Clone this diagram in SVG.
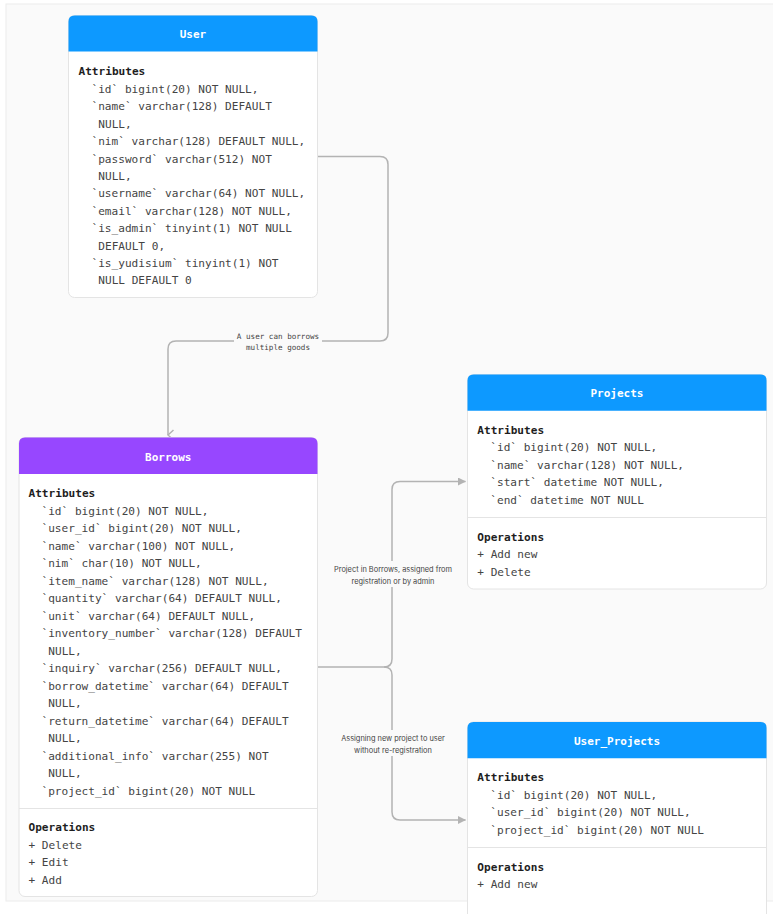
<svg xmlns="http://www.w3.org/2000/svg" width="773" height="914" viewBox="0 0 773 914">
<style>
.canvas{fill:#fafafa;stroke:#ececec;stroke-width:1}
.box{fill:#ffffff;stroke:#e4e4e4;stroke-width:1}
.hdr-blue{fill:#0d99ff}
.hdr-purple{fill:#9747ff}
.title{font-family:"DejaVu Sans Mono","Liberation Mono",monospace;font-size:11px;font-weight:bold;fill:#ffffff;text-anchor:middle}
.sec{font-family:"DejaVu Sans Mono","Liberation Mono",monospace;font-size:11.1px;font-weight:bold;fill:#1e1e1e}
.att{font-family:"DejaVu Sans Mono","Liberation Mono",monospace;font-size:11.1px;fill:#444444}
.sep{stroke:#e4e4e4;stroke-width:1}
.conn{fill:none;stroke:#b3b3b3;stroke-width:1.5}
.lblm{font-family:"DejaVu Sans Mono","Liberation Mono",monospace;font-size:7.6px;fill:#444444;text-anchor:middle}
.lbls{font-family:Inter,"Noto Sans",sans-serif;font-size:7.4px;fill:#444444;text-anchor:middle}
.lblbg{fill:#fafafa}
</style>
<defs>
<marker id="chev" viewBox="0 0 12 10" refX="6" refY="8.5" markerWidth="12" markerHeight="10" markerUnits="userSpaceOnUse" orient="auto-start-reverse">
<path d="M1,3 L6,8.5 L11,3" fill="none" stroke="#b3b3b3" stroke-width="1.5"/>
</marker>
<marker id="tri" viewBox="0 0 8 8" refX="7.5" refY="4" markerWidth="8" markerHeight="8" markerUnits="userSpaceOnUse" orient="auto">
<path d="M0,0 L8,4 L0,8 Z" fill="#b3b3b3"/>
</marker>
</defs>
<rect class="canvas" x="6" y="4" width="770" height="897"/>

<g id="connectors">
<path class="conn" d="M318,156.5 H380 Q388,156.5 388,164.5 V333 Q388,341 380,341 H176 Q168,341 168,349 V435" marker-end="url(#chev)"/>
<rect class="lblbg" x="234" y="329" width="88" height="24"/>
<text class="lblm" x="278" y="338.5">A user can borrows</text>
<text class="lblm" x="278" y="350">multiple goods</text>
<path class="conn" d="M318,667 H384 Q392,667 392,659 V489.5 Q392,481.5 400,481.5 H465.5" marker-end="url(#tri)"/>
<path class="conn" d="M384,667 Q392,667 392,675 V812 Q392,820 400,820 H465.5" marker-end="url(#tri)"/>
<rect class="lblbg" x="330" y="561" width="126" height="26"/>
<text class="lbls" x="393" y="571.5">Project in Borrows, assigned from</text>
<text class="lbls" x="393" y="583.5">registration or by admin</text>
<rect class="lblbg" x="334" y="730" width="118" height="26"/>
<text class="lbls" x="393" y="741">Assigning new project to user</text>
<text class="lbls" x="393" y="753">without re-registration</text>
</g>

<g id="user">
<rect class="box" x="68.5" y="15.5" width="249" height="282" rx="6"/>
<path class="hdr-blue" d="M68.5,51.5 V21.5 Q68.5,15.5 74.5,15.5 H311.5 Q317.5,15.5 317.5,21.5 V51.5 Z"/>
<text class="title" x="193" y="38">User</text>
<text class="sec" x="78.5" y="75">Attributes</text>
<text class="att" x="91.5" y="93">`id` bigint(20) NOT NULL,</text>
<text class="att" x="91.5" y="110.4">`name` varchar(128) DEFAULT</text>
<text class="att" x="98.3" y="127.8">NULL,</text>
<text class="att" x="91.5" y="145.2">`nim` varchar(128) DEFAULT NULL,</text>
<text class="att" x="91.5" y="162.6">`password` varchar(512) NOT</text>
<text class="att" x="98.3" y="180">NULL,</text>
<text class="att" x="91.5" y="197.4">`username` varchar(64) NOT NULL,</text>
<text class="att" x="91.5" y="214.8">`email` varchar(128) NOT NULL,</text>
<text class="att" x="91.5" y="232.2">`is_admin` tinyint(1) NOT NULL</text>
<text class="att" x="98.3" y="249.6">DEFAULT 0,</text>
<text class="att" x="91.5" y="267">`is_yudisium` tinyint(1) NOT</text>
<text class="att" x="98.3" y="284.4">NULL DEFAULT 0</text>
</g>

<g id="borrows">
<rect class="box" x="19" y="437.5" width="298.5" height="459" rx="6"/>
<path class="hdr-purple" d="M19,474 V443.5 Q19,437.5 25,437.5 H311.5 Q317.5,437.5 317.5,443.5 V474 Z"/>
<text class="title" x="168.3" y="460.7">Borrows</text>
<text class="sec" x="28.5" y="497.3">Attributes</text>
<text class="att" x="41.5" y="515">`id` bigint(20) NOT NULL,</text>
<text class="att" x="41.5" y="532.47">`user_id` bigint(20) NOT NULL,</text>
<text class="att" x="41.5" y="549.94">`name` varchar(100) NOT NULL,</text>
<text class="att" x="41.5" y="567.41">`nim` char(10) NOT NULL,</text>
<text class="att" x="41.5" y="584.88">`item_name` varchar(128) NOT NULL,</text>
<text class="att" x="41.5" y="602.35">`quantity` varchar(64) DEFAULT NULL,</text>
<text class="att" x="41.5" y="619.82">`unit` varchar(64) DEFAULT NULL,</text>
<text class="att" x="41.5" y="637.29">`inventory_number` varchar(128) DEFAULT</text>
<text class="att" x="48.3" y="654.76">NULL,</text>
<text class="att" x="41.5" y="672.23">`inquiry` varchar(256) DEFAULT NULL,</text>
<text class="att" x="41.5" y="689.7">`borrow_datetime` varchar(64) DEFAULT</text>
<text class="att" x="48.3" y="707.17">NULL,</text>
<text class="att" x="41.5" y="724.64">`return_datetime` varchar(64) DEFAULT</text>
<text class="att" x="48.3" y="742.11">NULL,</text>
<text class="att" x="41.5" y="759.58">`additional_info` varchar(255) NOT</text>
<text class="att" x="48.3" y="777.05">NULL,</text>
<text class="att" x="41.5" y="794.52">`project_id` bigint(20) NOT NULL</text>
<line class="sep" x1="19" y1="808.5" x2="317.5" y2="808.5"/>
<text class="sec" x="28.5" y="830.7">Operations</text>
<text class="att" x="28.5" y="849">+ Delete</text>
<text class="att" x="28.5" y="866.4">+ Edit</text>
<text class="att" x="28.5" y="883.8">+ Add</text>
</g>

<g id="projects">
<rect class="box" x="467.5" y="374.5" width="299" height="214.5" rx="6"/>
<path class="hdr-blue" d="M467.5,410.7 V380.5 Q467.5,374.5 473.5,374.5 H760.5 Q766.5,374.5 766.5,380.5 V410.7 Z"/>
<text class="title" x="617" y="397.3">Projects</text>
<text class="sec" x="477.3" y="434">Attributes</text>
<text class="att" x="490.3" y="451.3">`id` bigint(20) NOT NULL,</text>
<text class="att" x="490.3" y="468.7">`name` varchar(128) NOT NULL,</text>
<text class="att" x="490.3" y="486.1">`start` datetime NOT NULL,</text>
<text class="att" x="490.3" y="503.5">`end` datetime NOT NULL</text>
<line class="sep" x1="467.5" y1="517.5" x2="766.5" y2="517.5"/>
<text class="sec" x="477.3" y="540.7">Operations</text>
<text class="att" x="477.3" y="558.3">+ Add new</text>
<text class="att" x="477.3" y="575.7">+ Delete</text>
</g>

<g id="user_projects">
<rect class="box" x="467.5" y="722" width="299" height="230" rx="6"/>
<path class="hdr-blue" d="M467.5,758.3 V728 Q467.5,722 473.5,722 H760.5 Q766.5,722 766.5,728 V758.3 Z"/>
<text class="title" x="617" y="744.7">User_Projects</text>
<text class="sec" x="477.3" y="781.3">Attributes</text>
<text class="att" x="490.3" y="799">`id` bigint(20) NOT NULL,</text>
<text class="att" x="490.3" y="816.4">`user_id` bigint(20) NOT NULL,</text>
<text class="att" x="490.3" y="833.8">`project_id` bigint(20) NOT NULL</text>
<line class="sep" x1="467.5" y1="847.5" x2="766.5" y2="847.5"/>
<text class="sec" x="477.3" y="870.7">Operations</text>
<text class="att" x="477.3" y="888">+ Add new</text>
</g>
</svg>
